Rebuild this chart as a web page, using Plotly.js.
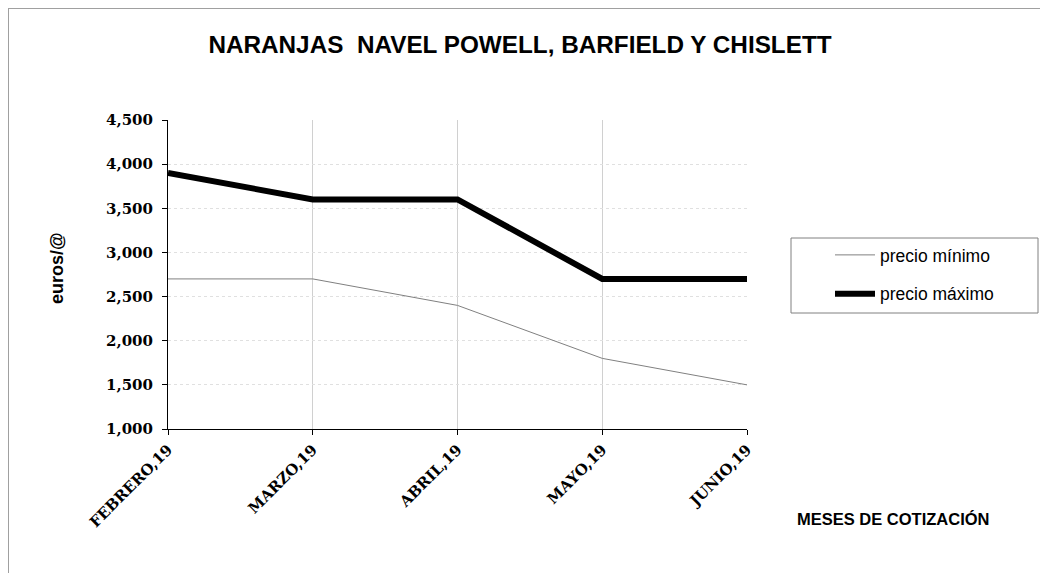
<!DOCTYPE html>
<html><head><meta charset="utf-8">
<script src="https://cdn.plot.ly/plotly-3.0.1.min.js"></script>
<style>html,body{margin:0;padding:0;background:#fff}#chart{width:1040px;height:573px}</style>
</head><body><div id="chart"></div>
<script>
const months = ["FEBRERO,19","MARZO,19","ABRIL,19","MAYO,19","JUNIO,19"];
const precioMinimo = [2.7, 2.7, 2.4, 1.8, 1.5];
const precioMaximo = [3.9, 3.6, 3.6, 2.7, 2.7];
const yTicks = [1, 1.5, 2, 2.5, 3, 3.5, 4, 4.5];

const W = 1040, H = 573, L = 168, R = 293, T = 120, B = 144;
const pw = W - L - R, ph = H - T - B;
const px = x => (x - L) / pw;
const py = y => (H - B - y) / ph;

const traces = [
  {x: months, y: precioMinimo, type: 'scatter', mode: 'lines', name: 'precio mínimo',
   line: {color: '#808080', width: 1}, legendgroup: 'a'},
  {x: months, y: precioMaximo, type: 'scatter', mode: 'lines', name: 'precio máximo',
   line: {color: '#000000', width: 6}, legendgroup: 'b'}
];

const tickFont = {family: 'DejaVu Serif, Liberation Serif, serif', size: 15, color: '#000', weight: 'bold'};

const layout = {
  width: W, height: H,
  margin: {l: L, r: R, t: T, b: B},
  paper_bgcolor: '#fff', plot_bgcolor: '#fff',
  separators: ',.',
  showlegend: true,
  title: {text: 'NARANJAS  NAVEL POWELL, BARFIELD Y CHISLETT',
    font: {family: 'Liberation Sans, Arial, sans-serif', size: 24.3, color: '#000', weight: 'bold'},
    x: 0.5, xanchor: 'center', y: 1 - 44 / H, yanchor: 'middle'},
  xaxis: {type: 'category', range: [0, 4], showline: true, linecolor: '#000', linewidth: 1,
    showgrid: true, gridcolor: '#d0d0d0', gridwidth: 1,
    ticks: 'outside', ticklen: 5, tickcolor: '#000', tickangle: -45,
    tickfont: tickFont, zeroline: false, fixedrange: true},
  yaxis: {range: [1, 4.5], tickvals: yTicks, tickformat: '.3f',
    showline: true, linecolor: '#000', linewidth: 1,
    showgrid: true, gridcolor: '#e0e0e0', gridwidth: 1, griddash: 'dot',
    ticks: 'outside', ticklen: 5, tickcolor: '#000', ticklabelstandoff: 6,
    tickfont: tickFont, zeroline: false, fixedrange: true},
  legend: {x: px(830), y: py(237), xanchor: 'left', yanchor: 'top',
    font: {family: 'Liberation Sans, Arial, sans-serif', size: 17.5, color: '#000'},
    bgcolor: 'rgba(0,0,0,0)', borderwidth: 0, tracegroupgap: 13, itemwidth: 40},
  shapes: [
    {type: 'rect', xref: 'paper', yref: 'paper', x0: px(791), x1: px(1038), y0: py(238), y1: py(313),
     line: {color: '#808080', width: 1}, fillcolor: 'rgba(0,0,0,0)'},
    {type: 'line', xref: 'paper', yref: 'paper', x0: px(8.5), x1: px(8.5), y0: py(8), y1: py(580),
     line: {color: '#a0a0a0', width: 1}},
    {type: 'line', xref: 'paper', yref: 'paper', x0: px(8), x1: px(1045), y0: py(8.5), y1: py(8.5),
     line: {color: '#a0a0a0', width: 1}}
  ],
  annotations: [
    {text: 'euros/@', xref: 'paper', yref: 'paper', x: px(57), y: py(268), xanchor: 'center', yanchor: 'middle',
     showarrow: false, textangle: -90,
     font: {family: 'Liberation Sans, Arial, sans-serif', size: 18, color: '#000', weight: 'bold'}},
    {text: 'MESES DE COTIZACIÓN', xref: 'paper', yref: 'paper', x: px(893), y: py(519),
     xanchor: 'center', yanchor: 'middle', showarrow: false,
     font: {family: 'Liberation Sans, Arial, sans-serif', size: 16.5, color: '#000', weight: 'bold'}}
  ]
};

Plotly.newPlot('chart', traces, layout, {displayModeBar: false, staticPlot: true});
</script></body></html>
